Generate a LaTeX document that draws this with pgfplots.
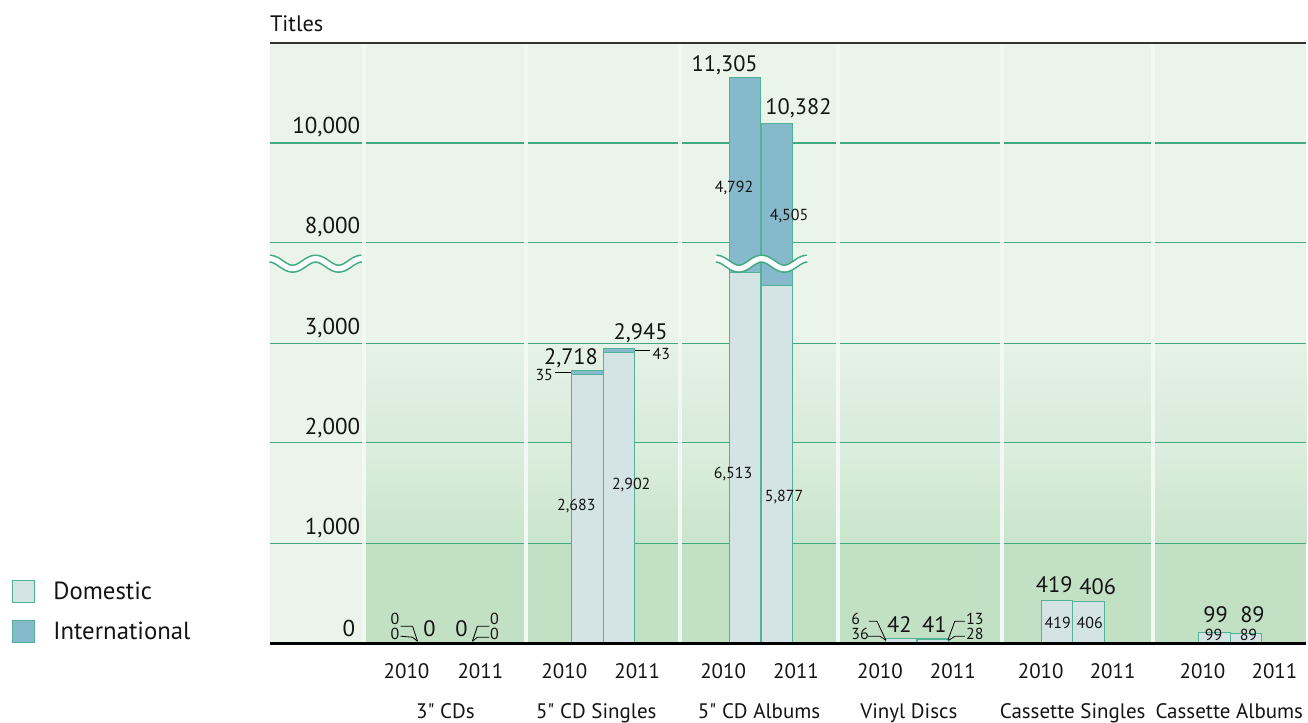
\documentclass[border=0pt]{standalone}
\usepackage{pgfplots}
\pgfplotsset{compat=1.18}
\usepackage{pgfplotstable}
\usepackage{fontspec}
\setmainfont{PT Sans}[Ligatures=TeXOff]
\definecolor{bglight}{RGB}{234,244,235}
\definecolor{banddark}{RGB}{193,224,196}
\definecolor{bandAa}{RGB}{201,228,204}
\definecolor{bandAb}{RGB}{221,238,222}
\definecolor{bandBa}{RGB}{216,235,218}
\definecolor{bandBb}{RGB}{230,242,231}
\definecolor{sep}{RGB}{242,248,242}
\definecolor{gridg}{RGB}{66,170,128}
\definecolor{barline}{RGB}{82,178,150}
\definecolor{dom}{RGB}{212,228,228}
\definecolor{intl}{RGB}{134,185,204}
\definecolor{txt}{RGB}{20,20,20}

% x = pixel position of bar centre, dom = domestic titles, tot = total titles
\pgfplotstableread{
x      dom   tot
431    0     0
460    0     0
588    2683  2718
620    2902  2945
746    6513  11305
778    5877  10382
902.5  36    42
933.5  28    41
1058.5 419   419
1090   406   406
1216   99    99
1247.5 89    89
}\data

\begin{document}
\begin{tikzpicture}[declare function={brk(\v)=min(\v,3000)+max(min(\v,8000)-3000,0)/5+max(\v-8000,0)/2;},
  big/.style={font=\fontsize{11.2}{13.5}\selectfont, inner sep=0pt, text=txt},
  tick/.style={font=\fontsize{11.5}{13.5}\selectfont, inner sep=0pt, text=txt},
  cat/.style={font=\fontsize{10.5}{12.5}\selectfont, inner sep=0pt, text=txt},
  leg/.style={font=\fontsize{12.4}{14.5}\selectfont, inner sep=0pt, text=txt},
  small/.style={font=\fontsize{8}{9.5}\selectfont, inner sep=0pt, text=txt}]
\begin{scope}[x=0.5pt,y=-0.5pt,shift={(0pt,361pt)}]
\useasboundingbox (0,0) rectangle (1308,722);
% background
\fill[bglight] (270,44) rectangle (1308,643);
\fill[banddark] (366,544) rectangle (1308,643);
\shade[bottom color=bandAa, top color=bandAb] (366,443) rectangle (1308,544);
\shade[bottom color=bandBa, top color=bandBb] (366,344) rectangle (1308,443);
% grid
\foreach \yy in {143,243,344,443,544}{\draw[gridg, line width=0.75pt] (270,\yy) -- (1308,\yy);}
% separators
\foreach \xx in {362,525,679,837,1001,1152}{\fill[sep] (\xx,44) rectangle (\xx+4,647);}
\end{scope}

\begin{axis}[at={(135pt,39.5pt)}, anchor=south west, width=519pt, height=300pt,
  scale only axis, hide axis, clip=false,
  xmin=270, xmax=1308, ymin=0, ymax=6000]
\addplot[ybar, bar width=31.5, bar shift=0pt, fill=intl, draw=barline, line width=0.5pt]
  table[x=x, y expr={brk(\thisrow{tot})}] {\data};
\addplot[ybar, bar width=31.5, bar shift=0pt, fill=dom, draw=barline, line width=0.5pt]
  table[x=x, y expr={brk(\thisrow{dom})}] {\data};
\end{axis}

\begin{scope}[x=0.5pt,y=-0.5pt,shift={(0pt,361pt)}]
% break symbols
\foreach \xa/\xb/\per in {270/362/46, 717/808/45.5}{
  \draw[gridg, line width=4.2pt] plot[domain=0:(\xb-\xa), samples=60, smooth] ({\x+\xa},{264-5*cos(360/\per*\x)});
  \draw[white, line width=2.6pt] plot[domain=-1:(\xb-\xa+1), samples=60, smooth] ({\x+\xa},{264-5*cos(360/\per*\x)});
}
% frame lines
\draw[black!80, line width=0.7pt] (270,43) -- (1308,43);
\draw[black, line width=1.6pt] (270,644.5) -- (1308,644.5);
% title and tick labels
\node[big, anchor=base west] at (270,32) {Titles};
\node[tick, anchor=base east] at (361,134) {10,000};
\node[tick, anchor=base east] at (361,234) {8,000};
\node[tick, anchor=base east] at (361,335) {3,000};
\node[tick, anchor=base east] at (361,435) {2,000};
\node[tick, anchor=base east] at (361,535) {1,000};
\node[tick, anchor=base east] at (356,637) {0};
% years
\foreach \xx/\yr in {407/2010,481/2011,565/2010,638/2011,724/2010,797/2011,881/2010,954/2011,1042/2010,1114/2011,1204/2010,1276/2011}
  {\node[cat, anchor=base] at (\xx,679) {\yr};}
% categories
\node[cat, anchor=base] at (446,719) {3" CDs};
\node[cat, anchor=base] at (597,719) {5" CD Singles};
\node[cat, anchor=base] at (760,719) {5" CD Albums};
\node[cat, anchor=base] at (910,719) {Vinyl Discs};
\node[cat, anchor=base] at (1074,719) {Cassette Singles};
\node[cat, anchor=base east] at (1305,719) {Cassette Albums};
% 3" CDs
\node[big, anchor=base] at (430,637) {0};
\node[big, anchor=base] at (462,637) {0};
\node[small, anchor=base] at (395.5,625) {0};
\node[small, anchor=base] at (395.5,640) {0};
\node[small, anchor=base] at (495,625) {0};
\node[small, anchor=base] at (495,640) {0};
\draw[black, line width=0.4pt] (401,627) -- (413,627) -- (418,642);
\draw[black, line width=0.4pt] (401,637) -- (413,638) -- (418,642);
\draw[black, line width=0.4pt] (473,642) -- (478,627) -- (490,627);
\draw[black, line width=0.4pt] (473,642) -- (478,638) -- (490,638);
% 5" CD Singles
\node[big, anchor=base east] at (599,365) {2,718};
\node[big, anchor=base west] at (614,340) {2,945};
\node[small, anchor=base east] at (554,381) {35};
\node[small, anchor=base west] at (653,360) {43};
\draw[black, line width=0.4pt] (556,373) -- (572,373);
\draw[black, line width=0.4pt] (636,351) -- (651,351);
\node[small, anchor=base] at (577,511) {2,683};
\node[small, anchor=base] at (632,490) {2,902};
% 5" CD Albums
\node[big, anchor=base east] at (759,72) {11,305};
\node[big, anchor=base west] at (766,115) {10,382};
\node[small, anchor=base] at (734,479) {6,513};
\node[small, anchor=base] at (785,502) {5,877};
\node[small, anchor=base] at (735,193) {4,792};
\node[small, anchor=base] at (790,221) {4,505};
% Vinyl
\node[small, anchor=base west] at (852,625) {6};
\node[small, anchor=base west] at (852,640) {36};
\draw[black, line width=0.4pt] (870,622) -- (878,622) -- (887,641);
\draw[black, line width=0.4pt] (869,637) -- (881,637) -- (887,641);
\node[big, anchor=base] at (900.5,633) {42};
\node[big, anchor=base] at (935.5,633) {41};
\draw[black, line width=0.4pt] (949,641) -- (956,622) -- (966,622);
\draw[black, line width=0.4pt] (950,641) -- (956,637) -- (966,637);
\node[small, anchor=base west] at (967,625) {13};
\node[small, anchor=base west] at (967,640) {28};
% Cassette singles
\node[big, anchor=base] at (1055.5,593) {419};
\node[big, anchor=base] at (1099,595) {406};
\node[small, anchor=base] at (1059,629) {419};
\node[small, anchor=base] at (1091,629) {406};
% Cassette albums
\node[big, anchor=base] at (1217,623) {99};
\node[big, anchor=base] at (1254,623) {89};
\node[small, anchor=base] at (1215,641) {99};
\node[small, anchor=base] at (1250,641) {89};
% legend
\draw[barline, fill=dom, line width=0.5pt] (13,581) rectangle (35,603);
\draw[barline, fill=intl, line width=0.5pt] (13,621) rectangle (35,643);
\node[leg, anchor=base west] at (53,600) {Domestic};
\node[leg, anchor=base west] at (53,640) {International};
\end{scope}
\end{tikzpicture}
\end{document}
